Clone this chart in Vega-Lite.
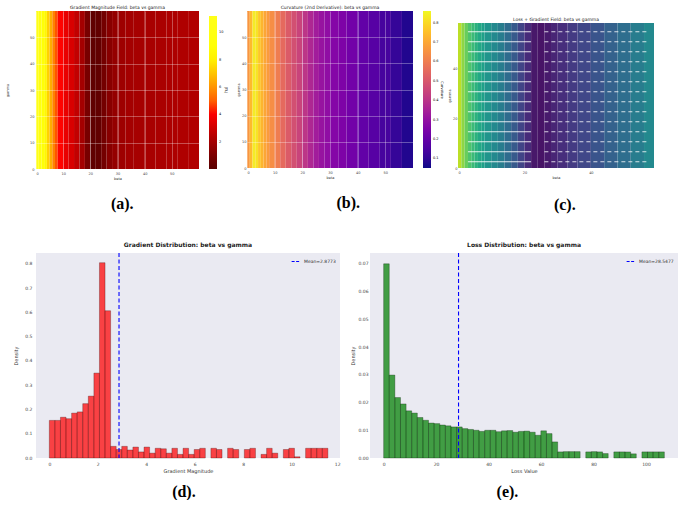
{
  "$schema": "https://vega.github.io/schema/vega-lite/v6.json",
  "background": "white",
  "padding": {"left": 5, "top": 4, "right": 0, "bottom": 0},
  "config": {
    "font": "DejaVu Sans",
    "view": {"stroke": null},
    "axis": {"domain": false, "ticks": false, "grid": false, "labelColor": "#444444", "titleColor": "#333333", "titleFontWeight": "normal"},
    "title": {"color": "#222222"}
  },
  "resolve": {"scale": {"color": "independent", "stroke": "independent"}, "legend": {"color": "independent", "stroke": "independent"}},
  "datasets": {
    "heat": [
      {"b0":0,"b1":1,"a":11.0,"p":0.658,"c":0.90},
      {"b0":1,"b1":2,"a":10.0,"p":0.739,"c":0.83},
      {"b0":2,"b1":3,"a":9.0,"p":0.836,"c":0.77},
      {"b0":3,"b1":4,"a":8.2,"p":0.820,"c":0.72},
      {"b0":4,"b1":5,"a":7.3,"p":0.763,"c":0.68},
      {"b0":5,"b1":6,"a":6.5,"p":0.730,"c":0.64},
      {"b0":6,"b1":7,"a":5.6,"p":0.698,"c":0.60},
      {"b0":7,"b1":8,"a":4.8,"p":0.674,"c":0.57},
      {"b0":8,"b1":10,"a":4.1,"p":0.641,"c":0.52},
      {"b0":10,"b1":12,"a":3.6,"p":0.601,"c":0.47},
      {"b0":12,"b1":14,"a":3.2,"p":0.552,"c":0.42},
      {"b0":14,"b1":16,"a":2.7,"p":0.512,"c":0.35},
      {"b0":16,"b1":18,"a":2.0,"p":0.479,"c":0.28},
      {"b0":18,"b1":20,"a":0.9,"p":0.447,"c":0.20},
      {"b0":20,"b1":22,"a":0.25,"p":0.406,"c":0.12},
      {"b0":22,"b1":24,"a":0.3,"p":0.366,"c":0.06},
      {"b0":24,"b1":26,"a":0.8,"p":0.334,"c":0.05},
      {"b0":26,"b1":28,"a":1.3,"p":0.309,"c":0.07},
      {"b0":28,"b1":30,"a":1.6,"p":0.293,"c":0.10},
      {"b0":30,"b1":33,"a":1.85,"p":0.269,"c":0.13},
      {"b0":33,"b1":36,"a":2.0,"p":0.253,"c":0.17},
      {"b0":36,"b1":40,"a":2.05,"p":0.228,"c":0.21},
      {"b0":40,"b1":44,"a":2.1,"p":0.196,"c":0.26},
      {"b0":44,"b1":48,"a":2.15,"p":0.172,"c":0.31},
      {"b0":48,"b1":52,"a":2.2,"p":0.139,"c":0.36},
      {"b0":52,"b1":56,"a":2.25,"p":0.107,"c":0.42},
      {"b0":56,"b1":60,"a":2.3,"p":0.074,"c":0.47}
    ],
    "quiv": [
      {"g":2.5,"s0":3,"s1":22,"d0":26,"d1":57},
      {"g":6.5,"s0":3,"s1":22,"d0":26,"d1":57},
      {"g":10.5,"s0":3,"s1":22,"d0":26,"d1":57},
      {"g":14.5,"s0":3,"s1":22,"d0":26,"d1":57},
      {"g":18.5,"s0":3,"s1":22,"d0":26,"d1":57},
      {"g":22.5,"s0":3,"s1":22,"d0":26,"d1":57},
      {"g":26.5,"s0":3,"s1":22,"d0":26,"d1":57},
      {"g":30.5,"s0":3,"s1":22,"d0":26,"d1":57},
      {"g":34.5,"s0":3,"s1":22,"d0":26,"d1":57},
      {"g":38.5,"s0":3,"s1":22,"d0":26,"d1":57},
      {"g":42.5,"s0":3,"s1":22,"d0":26,"d1":57},
      {"g":46.5,"s0":3,"s1":22,"d0":26,"d1":57},
      {"g":50.5,"s0":3,"s1":22,"d0":26,"d1":57},
      {"g":54.5,"s0":3,"s1":22,"d0":26,"d1":57}
    ],
    "gd": [
      {"x0":0.00,"x1":0.23,"d":0.155},
      {"x0":0.23,"x1":0.46,"d":0.155},
      {"x0":0.46,"x1":0.69,"d":0.168},
      {"x0":0.69,"x1":0.92,"d":0.162},
      {"x0":0.92,"x1":1.15,"d":0.185},
      {"x0":1.15,"x1":1.38,"d":0.19},
      {"x0":1.38,"x1":1.61,"d":0.224},
      {"x0":1.61,"x1":1.84,"d":0.255},
      {"x0":1.84,"x1":2.07,"d":0.35},
      {"x0":2.07,"x1":2.30,"d":0.805},
      {"x0":2.30,"x1":2.53,"d":0.607},
      {"x0":2.53,"x1":2.76,"d":0.048},
      {"x0":2.76,"x1":2.99,"d":0.035},
      {"x0":2.99,"x1":3.22,"d":0.048},
      {"x0":3.22,"x1":3.45,"d":0.033},
      {"x0":3.45,"x1":3.68,"d":0.045},
      {"x0":3.68,"x1":3.91,"d":0.025},
      {"x0":3.91,"x1":4.14,"d":0.045},
      {"x0":4.14,"x1":4.37,"d":0.02},
      {"x0":4.37,"x1":4.60,"d":0.04},
      {"x0":4.60,"x1":4.83,"d":0.038},
      {"x0":4.83,"x1":5.06,"d":0.02},
      {"x0":5.06,"x1":5.29,"d":0.04},
      {"x0":5.29,"x1":5.52,"d":0.015},
      {"x0":5.52,"x1":5.75,"d":0.04},
      {"x0":5.75,"x1":5.98,"d":0.015},
      {"x0":5.98,"x1":6.21,"d":0.035},
      {"x0":6.21,"x1":6.44,"d":0.04},
      {"x0":6.67,"x1":6.90,"d":0.04},
      {"x0":6.90,"x1":7.13,"d":0.035},
      {"x0":7.36,"x1":7.59,"d":0.04},
      {"x0":7.59,"x1":7.82,"d":0.035},
      {"x0":8.05,"x1":8.28,"d":0.035},
      {"x0":8.28,"x1":8.51,"d":0.04},
      {"x0":8.74,"x1":8.97,"d":0.015},
      {"x0":8.97,"x1":9.20,"d":0.04},
      {"x0":9.20,"x1":9.43,"d":0.02},
      {"x0":9.66,"x1":9.89,"d":0.035},
      {"x0":9.89,"x1":10.12,"d":0.04},
      {"x0":10.12,"x1":10.35,"d":0.005},
      {"x0":10.58,"x1":10.81,"d":0.04},
      {"x0":10.81,"x1":11.04,"d":0.04},
      {"x0":11.04,"x1":11.27,"d":0.04},
      {"x0":11.27,"x1":11.50,"d":0.04}
    ],
    "ld": [
      {"x0":0.00,"x1":2.14,"d":0.0700},
      {"x0":2.14,"x1":4.28,"d":0.0299},
      {"x0":4.28,"x1":6.42,"d":0.0218},
      {"x0":6.42,"x1":8.56,"d":0.0195},
      {"x0":8.56,"x1":10.70,"d":0.0170},
      {"x0":10.70,"x1":12.84,"d":0.0162},
      {"x0":12.84,"x1":14.98,"d":0.0146},
      {"x0":14.98,"x1":17.12,"d":0.0136},
      {"x0":17.12,"x1":19.26,"d":0.0126},
      {"x0":19.26,"x1":21.40,"d":0.0124},
      {"x0":21.40,"x1":23.54,"d":0.0119},
      {"x0":23.54,"x1":25.68,"d":0.0116},
      {"x0":25.68,"x1":27.82,"d":0.0112},
      {"x0":27.82,"x1":29.96,"d":0.0112},
      {"x0":29.96,"x1":32.10,"d":0.0106},
      {"x0":32.10,"x1":34.24,"d":0.0103},
      {"x0":34.24,"x1":36.38,"d":0.0100},
      {"x0":36.38,"x1":38.52,"d":0.0096},
      {"x0":38.52,"x1":40.66,"d":0.0100},
      {"x0":40.66,"x1":42.80,"d":0.0100},
      {"x0":42.80,"x1":44.94,"d":0.0095},
      {"x0":44.94,"x1":47.08,"d":0.0098},
      {"x0":47.08,"x1":49.22,"d":0.0099},
      {"x0":49.22,"x1":51.36,"d":0.0093},
      {"x0":51.36,"x1":53.50,"d":0.0096},
      {"x0":53.50,"x1":55.64,"d":0.0097},
      {"x0":55.64,"x1":57.78,"d":0.0093},
      {"x0":57.78,"x1":59.92,"d":0.0082},
      {"x0":59.92,"x1":62.06,"d":0.0098},
      {"x0":62.06,"x1":64.20,"d":0.0088},
      {"x0":64.20,"x1":66.34,"d":0.0058},
      {"x0":66.34,"x1":68.48,"d":0.0022},
      {"x0":68.48,"x1":70.62,"d":0.0023},
      {"x0":70.62,"x1":72.76,"d":0.0023},
      {"x0":72.76,"x1":74.90,"d":0.0023},
      {"x0":77.04,"x1":79.18,"d":0.0022},
      {"x0":79.18,"x1":81.32,"d":0.0023},
      {"x0":81.32,"x1":83.46,"d":0.0022},
      {"x0":83.46,"x1":85.60,"d":0.0016},
      {"x0":87.74,"x1":89.88,"d":0.0022},
      {"x0":89.88,"x1":92.02,"d":0.0022},
      {"x0":92.02,"x1":94.16,"d":0.0022},
      {"x0":94.16,"x1":96.30,"d":0.0015},
      {"x0":98.44,"x1":100.58,"d":0.0022},
      {"x0":100.58,"x1":102.72,"d":0.0022},
      {"x0":102.72,"x1":104.86,"d":0.0022},
      {"x0":104.86,"x1":107.00,"d":0.0022}
    ]
  },
  "spacing": 29,
  "vconcat": [
    {
      "spacing": 3,
      "resolve": {"scale": {"color": "independent", "stroke": "independent"}, "legend": {"color": "independent", "stroke": "independent"}},
      "hconcat": [
        {
          "title": {"text": "(a).", "orient": "bottom", "anchor": "middle", "font": "Liberation Serif", "fontSize": 16, "fontWeight": "bold", "color": "black", "offset": 16, "dx": 3},
          "resolve": {"scale": {"color": "independent", "stroke": "independent"}, "legend": {"color": "independent", "stroke": "independent"}},
          "vconcat": [
            {
              "width": 163, "height": 158,
              "title": {"text": "Gradient Magnitude Field: beta vs gamma", "fontSize": 4.5, "fontWeight": "normal", "offset": 2},
              "data": {"name": "heat"},
              "mark": {"type": "rect"},
              "encoding": {
                "x": {"field": "b0", "type": "quantitative", "scale": {"domain": [0, 60], "nice": false, "zero": false},
                      "axis": {"title": "beta", "values": [0,10,20,30,40,50], "labelFontSize": 3.5, "titleFontSize": 3.5, "labelPadding": 2, "titlePadding": 2, "grid": true, "gridColor": "white", "gridOpacity": 0.45, "gridWidth": 0.7, "zindex": 1}},
                "x2": {"field": "b1"},
                "y": {"datum": 0, "type": "quantitative", "scale": {"domain": [0, 60], "nice": false},
                      "axis": {"title": "gamma", "values": [0,10,20,30,40,50], "labelFontSize": 3.5, "titleFontSize": 3.5, "labelPadding": 2, "titlePadding": 20, "grid": true, "gridColor": "white", "gridOpacity": 0.45, "gridWidth": 0.7, "zindex": 1}},
                "y2": {"datum": 60},
                "color": {"field": "a", "type": "quantitative",
                          "scale": {"domain": [0, 4.09, 8.36, 11.2], "range": ["#000000", "#ff0000", "#ffff00", "#ffffff"]},
                          "legend": {"type": "gradient", "title": "|∇L|", "titleOrient": "right", "titlePadding": 1, "titleFontSize": 3.5, "titleFontWeight": "normal", "labelFontSize": 3.5, "gradientLength": 153, "gradientThickness": 8, "offset": 5, "padding": 5, "values": [2,4,6,8,10], "labelOffset": 2, "gradientStrokeWidth": 0}}
              }
            }
          ]
        },
        {
          "title": {"text": "(b).", "orient": "bottom", "anchor": "middle", "font": "Liberation Serif", "fontSize": 16, "fontWeight": "bold", "color": "black", "offset": 16, "dx": 8},
          "resolve": {"scale": {"color": "independent", "stroke": "independent"}, "legend": {"color": "independent", "stroke": "independent"}},
          "vconcat": [
            {
              "width": 166, "height": 157,
              "title": {"text": "Curvature (2nd Derivative): beta vs gamma", "fontSize": 4.5, "fontWeight": "normal", "offset": 2},
              "data": {"name": "heat"},
              "mark": {"type": "rect"},
              "encoding": {
                "x": {"field": "b0", "type": "quantitative", "scale": {"domain": [0, 60], "nice": false, "zero": false},
                      "axis": {"title": "beta", "values": [0,10,20,30,40,50], "labelFontSize": 3.5, "titleFontSize": 3.5, "labelPadding": 2, "titlePadding": 2, "grid": true, "gridColor": "white", "gridOpacity": 0.45, "gridWidth": 0.7, "zindex": 1}},
                "x2": {"field": "b1"},
                "y": {"datum": 0, "type": "quantitative", "scale": {"domain": [0, 60], "nice": false},
                      "axis": {"title": "gamma", "values": [0,10,20,30,40,50], "labelFontSize": 3.5, "titleFontSize": 3.5, "labelPadding": 1, "titlePadding": 1, "grid": true, "gridColor": "white", "gridOpacity": 0.45, "gridWidth": 0.7, "zindex": 1}},
                "y2": {"datum": 60},
                "color": {"field": "p", "type": "quantitative",
                          "scale": {"scheme": "plasma", "domain": [0.05, 0.86]},
                          "legend": {"type": "gradient", "title": "Curvature", "titleOrient": "right", "titlePadding": 1, "titleFontSize": 3.5, "titleFontWeight": "normal", "labelFontSize": 3.5, "gradientLength": 157, "gradientThickness": 8, "offset": 10, "padding": 0, "values": [0.1,0.2,0.3,0.4,0.5,0.6,0.7,0.8], "format": ".1f", "labelOffset": 2, "gradientStrokeWidth": 0}}
              }
            }
          ]
        },
        {
          "title": {"text": "(c).", "orient": "bottom", "anchor": "middle", "font": "Liberation Serif", "fontSize": 16, "fontWeight": "bold", "color": "black", "offset": 18, "dx": 14},
          "spacing": 4,
          "resolve": {"scale": {"color": "independent", "stroke": "independent"}, "legend": {"color": "independent", "stroke": "independent"}},
          "vconcat": [
            {
              "width": 196, "height": 1,
              "data": {"values": []},
              "mark": {"type": "point", "opacity": 0},
              "encoding": {}
            },
            {
              "width": 196, "height": 145,
              "title": {"text": "Loss + Gradient Field: beta vs gamma", "fontSize": 4.5, "fontWeight": "normal", "offset": 2},
              "layer": [
                {
                  "data": {"name": "heat"},
                  "mark": {"type": "rect", "clip": true},
                  "encoding": {
                    "x": {"field": "b0", "type": "quantitative", "scale": {"domain": [0, 59], "nice": false, "zero": false},
                          "axis": {"title": "beta", "values": [0,10,20,30,40,50], "labelFontSize": 3.5, "titleFontSize": 3.5, "labelPadding": 2, "titlePadding": 2}},
                    "x2": {"field": "b1"},
                    "y": {"datum": 0, "type": "quantitative", "scale": {"domain": [0, 58], "nice": false},
                          "axis": {"title": "gamma", "values": [0,10,20,30,40,50], "labelFontSize": 3.5, "titleFontSize": 3.5, "labelPadding": 1, "titlePadding": 1}},
                    "y2": {"datum": 58},
                    "color": {"field": "c", "type": "quantitative", "scale": {"scheme": "viridis", "domain": [0, 1]}, "legend": null}
                  }
                },
                {
                  "data": {"name": "quiv"},
                  "mark": {"type": "rule", "color": "white", "strokeWidth": 1, "opacity": 0.85},
                  "encoding": {
                    "x": {"field": "s0", "type": "quantitative"},
                    "x2": {"field": "s1"},
                    "y": {"field": "g", "type": "quantitative"}
                  }
                },
                {
                  "data": {"name": "quiv"},
                  "mark": {"type": "rule", "color": "white", "strokeWidth": 1, "opacity": 0.8, "strokeDash": [4, 3]},
                  "encoding": {
                    "x": {"field": "d0", "type": "quantitative"},
                    "x2": {"field": "d1"},
                    "y": {"field": "g", "type": "quantitative"}
                  }
                }
              ]
            }
          ]
        }
      ]
    },
    {
      "spacing": 10,
      "resolve": {"scale": {"color": "independent"}, "legend": {"color": "independent"}},
      "hconcat": [
        {
          "title": {"text": "(d).", "orient": "bottom", "anchor": "middle", "font": "Liberation Serif", "fontSize": 16, "fontWeight": "bold", "color": "black", "offset": 10, "dx": 7},
          "resolve": {"scale": {"color": "independent"}, "legend": {"color": "independent"}},
          "vconcat": [
            {
              "width": 304, "height": 205,
              "view": {"fill": "#EAEAF2", "stroke": null},
              "title": {"text": "Gradient Distribution: beta vs gamma", "fontSize": 6, "fontWeight": "bold", "offset": 4},
              "layer": [
                {
                  "data": {"name": "gd"},
                  "mark": {"type": "rect", "color": "red", "fillOpacity": 0.72, "stroke": "#3a0000", "strokeOpacity": 0.6, "strokeWidth": 0.5},
                  "encoding": {
                    "x": {"field": "x0", "type": "quantitative", "scale": {"domain": [-0.55, 12.0], "nice": false, "zero": false},
                          "axis": {"title": "Gradient Magnitude", "values": [0,2,4,6,8,10,12], "labelFontSize": 4.5, "titleFontSize": 5, "labelPadding": 3, "titlePadding": 3}},
                    "x2": {"field": "x1"},
                    "y": {"field": "d", "type": "quantitative", "scale": {"domain": [0, 0.845], "nice": false},
                          "axis": {"title": "Density", "values": [0,0.1,0.2,0.3,0.4,0.5,0.6,0.7,0.8], "format": ".1f", "labelFontSize": 4.5, "titleFontSize": 5, "labelPadding": 4, "titlePadding": 6}}
                  }
                },
                {
                  "data": {"values": [{"m": 2.8773, "lab": "Mean=2.8773"}]},
                  "mark": {"type": "rule", "strokeDash": [4, 2.5], "strokeWidth": 1.1},
                  "encoding": {
                    "x": {"field": "m", "type": "quantitative"},
                    "color": {"field": "lab", "type": "nominal", "scale": {"range": ["blue"]},
                              "legend": {"title": null, "orient": "top-right", "symbolType": "stroke", "symbolDash": [3, 1.5], "symbolStrokeWidth": 1, "symbolSize": 60, "labelFontSize": 4.5, "labelColor": "#333333", "offset": 4}}
                  }
                }
              ]
            }
          ]
        },
        {
          "title": {"text": "(e).", "orient": "bottom", "anchor": "middle", "font": "Liberation Serif", "fontSize": 16, "fontWeight": "bold", "color": "black", "offset": 10, "dx": -7},
          "resolve": {"scale": {"color": "independent"}, "legend": {"color": "independent"}},
          "vconcat": [
            {
              "width": 308, "height": 205,
              "view": {"fill": "#EAEAF2", "stroke": null},
              "title": {"text": "Loss Distribution: beta vs gamma", "fontSize": 6, "fontWeight": "bold", "offset": 4},
              "layer": [
                {
                  "data": {"name": "ld"},
                  "mark": {"type": "rect", "color": "green", "fillOpacity": 0.72, "stroke": "#001a00", "strokeOpacity": 0.6, "strokeWidth": 0.5},
                  "encoding": {
                    "x": {"field": "x0", "type": "quantitative", "scale": {"domain": [-5.2, 112.2], "nice": false, "zero": false},
                          "axis": {"title": "Loss Value", "values": [0,20,40,60,80,100], "labelFontSize": 4.5, "titleFontSize": 5, "labelPadding": 3, "titlePadding": 3}},
                    "x2": {"field": "x1"},
                    "y": {"field": "d", "type": "quantitative", "scale": {"domain": [0, 0.0739], "nice": false},
                          "axis": {"title": "Density", "values": [0,0.01,0.02,0.03,0.04,0.05,0.06,0.07], "format": ".2f", "labelFontSize": 4.5, "titleFontSize": 5, "labelPadding": 2, "titlePadding": 2}}
                  }
                },
                {
                  "data": {"values": [{"m": 28.5477, "lab": "Mean=28.5477"}]},
                  "mark": {"type": "rule", "strokeDash": [4, 2.5], "strokeWidth": 1.1},
                  "encoding": {
                    "x": {"field": "m", "type": "quantitative"},
                    "color": {"field": "lab", "type": "nominal", "scale": {"range": ["blue"]},
                              "legend": {"title": null, "orient": "top-right", "symbolType": "stroke", "symbolDash": [3, 1.5], "symbolStrokeWidth": 1, "symbolSize": 60, "labelFontSize": 4.5, "labelColor": "#333333", "offset": 4}}
                  }
                }
              ]
            }
          ]
        }
      ]
    }
  ]
}
